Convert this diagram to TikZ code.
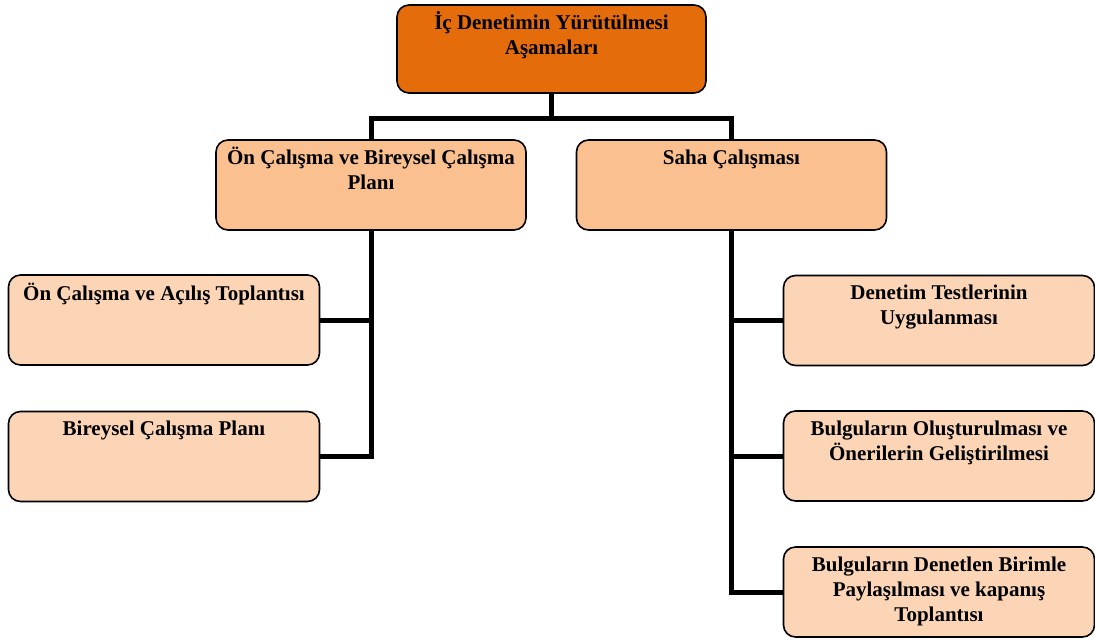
\documentclass[tikz,border=0pt]{standalone}
\usepackage{fontspec}
\setmainfont{Liberation Serif}
\usetikzlibrary{backgrounds}
\begin{document}
\begin{tikzpicture}[x=1pt,y=-1pt,
  stagebox/.style={draw=black,line width=1.6pt,rounded corners=12pt,inner sep=0pt},
  rootbox/.style={stagebox,fill=rootfill,minimum width=309pt,minimum height=88pt},
  phasebox/.style={stagebox,fill=phasefill,minimum width=310pt,minimum height=90pt},
  stepbox/.style={stagebox,fill=stepfill,minimum width=311pt,minimum height=90pt},
  caption/.style={anchor=north,inner sep=0pt,align=center,
    font=\bfseries\fontsize{21}{25}\selectfont},
  conn/.style={draw=black,line width=5pt,line cap=rect,line join=miter}]
\definecolor{rootfill}{RGB}{228,108,10}
\definecolor{phasefill}{RGB}{250,192,144}
\definecolor{stepfill}{RGB}{251,213,181}
\useasboundingbox (0,0) rectangle (1095,641);

% boxes
\node[rootbox] (root) at (551.5,49) {};
\node[phasebox] (prep) at (371,185) {};
\node[phasebox] (field) at (731.5,185) {};
\node[stepbox] (open) at (164,320) {};
\node[stepbox] (plan) at (164,456.5) {};
\node[stepbox] (tests) at (939,320.5) {};
\node[stepbox] (findings) at (939,456) {};
\node[stepbox] (closing) at (939,592) {};

% bus line between the first and second level
\coordinate (bus) at (551.5,118);

% connectors, behind the boxes
\begin{pgfonlayer}{background}
\draw[conn] (root.south) -- (bus);
\draw[conn] (prep.north) -- (prep.north |- bus) -- (field.north |- bus) -- (field.north);
\draw[conn] (prep.south) |- (plan.east);
\draw[conn] (open.east) -- (open.east -| prep.south);
\draw[conn] (field.south) |- (closing.west);
\draw[conn] (tests.west) -- (tests.west -| field.south);
\draw[conn] (findings.west) -- (findings.west -| field.south);
\end{pgfonlayer}

% captions
\node[caption] (t-root) at ([yshift=-6pt]root.north) {\rule{0pt}{19pt}İç Denetimin Yürütülmesi\\Aşamaları};
\node[caption] (t-prep) at ([yshift=-6pt]prep.north) {\rule{0pt}{19pt}Ön Çalışma ve Bireysel Çalışma\\Planı};
\node[caption] (t-field) at ([yshift=-6pt]field.north) {\rule{0pt}{19pt}Saha Çalışması};
\node[caption] (t-open) at ([yshift=-7pt]open.north) {\rule{0pt}{19pt}Ön Çalışma ve Açılış Toplantısı};
\node[caption] (t-plan) at ([yshift=-6pt]plan.north) {\rule{0pt}{19pt}Bireysel Çalışma Planı};
\node[caption] (t-tests) at ([yshift=-6pt]tests.north) {\rule{0pt}{19pt}Denetim Testlerinin\\Uygulanması};
\node[caption] (t-findings) at ([yshift=-6pt]findings.north) {\rule{0pt}{19pt}Bulguların Oluşturulması ve\\Önerilerin Geliştirilmesi};
\node[caption] (t-closing) at ([yshift=-6pt]closing.north) {\rule{0pt}{19pt}Bulguların Denetlen Birimle\\Paylaşılması ve kapanış\\Toplantısı};
\end{tikzpicture}
\end{document}
